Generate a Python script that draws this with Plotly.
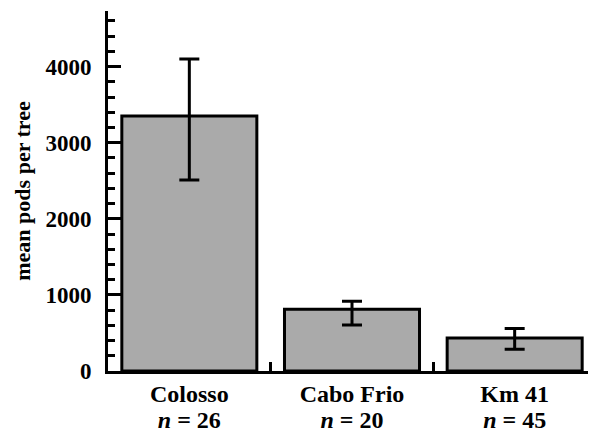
import plotly.graph_objects as go

sites = ["Colosso", "Cabo Frio", "Km 41"]
n_labels = ["<i>n</i> = 26", "<i>n</i> = 20", "<i>n</i> = 45"]
mean_pods = [3350, 810, 435]
err_plus = [750, 108, 122]
err_minus = [842, 206, 150]

FONT = "Liberation Serif"

fig = go.Figure()
fig.add_trace(go.Bar(
    x=sites, y=mean_pods, width=0.83,
    marker=dict(color="#aaaaaa", line=dict(color="black", width=3)),
    error_y=dict(type="data", symmetric=False, array=err_plus, arrayminus=err_minus,
                 color="black", thickness=3, width=10),
    showlegend=False,
))
# invisible trace for second-line labels
fig.add_trace(go.Scatter(x=sites, y=[0, 0, 0], xaxis="x2", mode="markers",
                         marker=dict(opacity=0), showlegend=False, hoverinfo="skip"))

# page body has an 8px default margin, so the figure is sized to fit the window
fig.update_layout(
    width=588, height=429,
    margin=dict(l=100, r=0, t=3, b=66),
    plot_bgcolor="white", paper_bgcolor="white",
    font=dict(family=FONT, color="black"),
    xaxis=dict(
        type="category", range=[-0.5, 2.5], automargin=False,
        showline=True, linecolor="black", linewidth=3,
        ticks="inside", tickson="boundaries", ticklen=9, tickwidth=3, tickcolor="black",
        tickfont=dict(family=FONT, size=24, color="black", weight="bold"),
        ticklabelstandoff=-1,
        showgrid=False, zeroline=False,
    ),
    xaxis2=dict(
        type="category", range=[-0.5, 2.5], overlaying="x", anchor="y", side="bottom",
        automargin=False,
        tickvals=sites, ticktext=n_labels, ticks="", showline=False,
        tickfont=dict(family=FONT, size=24, color="black", weight="bold"),
        ticklabelstandoff=32,
        showgrid=False, zeroline=False,
    ),
    yaxis=dict(
        range=[0, 4730], dtick=1000, tick0=0, automargin=False,
        showline=True, linecolor="black", linewidth=3,
        ticks="inside", ticklen=13, tickwidth=3, tickcolor="black",
        minor=dict(dtick=200, ticks="inside", ticklen=7, tickwidth=3, tickcolor="black"),
        tickfont=dict(family=FONT, size=23, color="black", weight="bold"),
        ticklabelstandoff=9,
        title=dict(text="mean pods per tree", font=dict(family=FONT, size=22, color="black", weight="bold"),
                   standoff=9),
        showgrid=False, zeroline=False,
    ),
)

fig.write_html("out.html")
